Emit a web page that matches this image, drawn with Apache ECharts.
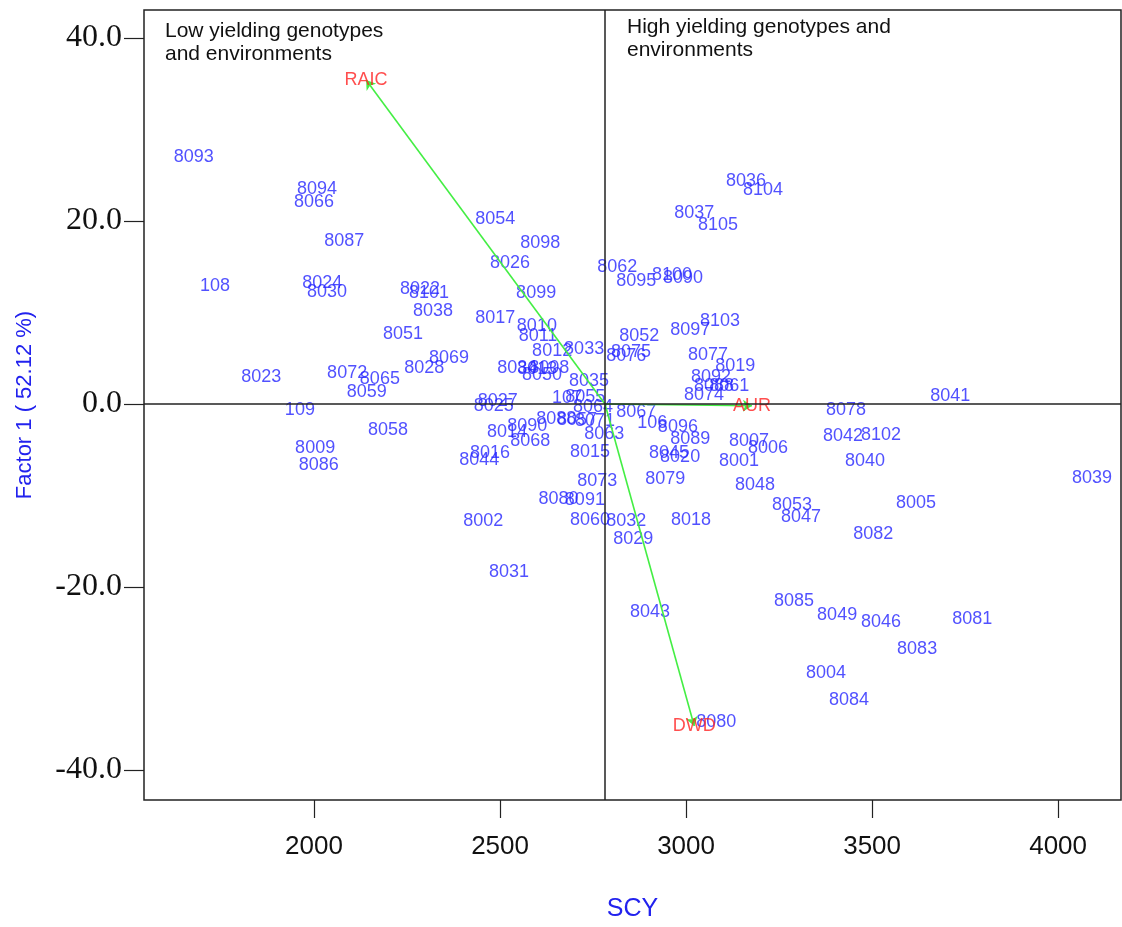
<!DOCTYPE html>
<html>
<head>
<meta charset="utf-8">
<script src="https://cdn.jsdelivr.net/npm/echarts@6/dist/echarts.min.js"></script>
<style>html,body{margin:0;padding:0;background:#fff}#c{width:1122px;height:927px}</style>
</head>
<body>
<div id="c"></div>
<script>
// Genotype labels and their coordinates (SCY, Factor 1)
const genotypes = ["8093","8094","8066","8054","8087","8098","8026","108","8024","8030","8022","8101","8099","8038","8017","8010","8011","8051","8012","8033","8069","8028","8072","8065","8023","8059","8034","8013","8008","8050","8035","107","8055","8064","8027","8025","109","8058","8009","8086","8088","8057","8071","8090","8014","8068","8063","8015","8016","8044","8073","8080","8091","8002","8060","8032","8029","8031","8043",
"8036","8104","8037","8105","8062","8095","8100","8090","8103","8097","8052","8075","8076","8077","8019","8092","8088","8061","8074","8041","8067","8078","106","8096","8089","8007","8006","8042","8102","8045","8020","8001","8040","8039","8079","8048","8005","8053","8047","8018","8082","8085","8049","8046","8081","8083","8004","8084","8080"];
const scyValues = [1677,2008,2000,2487,2081,2608,2527,1734,2022,2035,2285,2309,2597,2320,2487,2599,2602,2239,2640,2726,2363,2296,2089,2177,1858,2142,2546,2600,2632,2613,2739,2680,2729,2750,2494,2483,1962,2199,2003,2013,2651,2707,2755,2573,2519,2581,2780,2742,2473,2444,2761,2657,2728,2455,2742,2839,2858,2524,2903,
3161,3207,3022,3086,2815,2866,2962,2992,3091,3011,2874,2852,2839,3059,3132,3067,3075,3116,3048,3710,2866,3430,2909,2978,3011,3169,3220,3422,3524,2954,2984,3142,3481,4091,2944,3185,3618,3285,3309,3013,3503,3290,3406,3524,3769,3621,3376,3438,3081];
const factor1Values = [27.0,23.5,22.1,20.2,17.8,17.6,15.4,12.9,13.2,12.2,12.6,12.1,12.1,10.2,9.4,8.5,7.4,7.7,5.8,6.0,5.0,3.9,3.4,2.7,3.0,1.3,3.9,3.8,3.9,3.2,2.5,0.7,0.8,-0.3,0.3,-0.2,-0.7,-2.8,-4.8,-6.7,-1.6,-1.7,-1.9,-2.4,-3.1,-4.0,-3.3,-5.2,-5.4,-6.1,-8.4,-10.4,-10.5,-12.8,-12.7,-12.8,-14.8,-18.4,-22.7,
24.4,23.4,20.9,19.6,15.0,13.4,14.1,13.8,9.1,8.1,7.4,5.7,5.2,5.4,4.2,3.0,2.0,2.0,1.0,0.9,-0.9,-0.7,-2.1,-2.5,-3.8,-4.0,-4.8,-3.5,-3.4,-5.4,-5.8,-6.2,-6.2,-8.1,-8.2,-8.9,-10.8,-11.0,-12.3,-12.7,-14.2,-21.5,-23.1,-23.8,-23.5,-26.8,-29.4,-32.3,-34.8];

// Environment vectors
const envNames = ["RAIC","AUR","DWD"];
const envX = [2140,3177,3022];
const envY = [35.4,-0.2,-35.2];
const originX = 2782;
const originY = 0;

// Axis ticks
const xTicks = [2000,2500,3000,3500,4000];
const yTicks = [-40,-20,0,20,40];
const xRange = [1543,4169];
const yRange = [-43.28,43.06];

const pointData = genotypes.map((g,i)=>({name:g,value:[scyValues[i],factor1Values[i]]}));
const envData = envNames.map((n,i)=>({name:n,value:[envX[i],envY[i]]}));
const arrowData = envNames.map((n,i)=>({coords:[[originX,originY],[envX[i],envY[i]]]}));

const chart = echarts.init(document.getElementById('c'), null, {renderer:'canvas'});
chart.setOption({
  animation:false,
  backgroundColor:'#ffffff',
  grid:{left:144,top:10,right:1,bottom:127,show:true,borderColor:'#222',borderWidth:1.5,backgroundColor:'transparent'},
  xAxis:{
    type:'value',min:xRange[0],max:xRange[1],
    name:'SCY',nameLocation:'middle',nameGap:97,
    nameTextStyle:{color:'#2222ee',fontSize:25,fontFamily:'Liberation Sans',verticalAlign:'top'},
    axisLine:{show:false,onZero:false},
    splitLine:{show:false},
    axisTick:{show:true,inside:false,length:18,customValues:xTicks,lineStyle:{color:'#222',width:1.2}},
    axisLabel:{customValues:xTicks,margin:34,fontSize:26,color:'#111',fontFamily:'Liberation Sans',
      formatter:v=>String(v)}
  },
  yAxis:{
    type:'value',min:yRange[0],max:yRange[1],
    name:'Factor 1 ( 52.12 %)',nameLocation:'middle',nameGap:108,nameRotate:90,
    nameTextStyle:{color:'#2222ee',fontSize:22,fontFamily:'Liberation Sans'},
    axisLine:{show:false,onZero:false},
    splitLine:{show:false},
    axisTick:{show:true,inside:false,length:20,customValues:yTicks,lineStyle:{color:'#222',width:1.2}},
    axisLabel:{customValues:yTicks,margin:22,fontSize:32,color:'#111',fontFamily:'Liberation Serif',
      formatter:v=>v.toFixed(1)}
  },
  graphic:[
    {type:'text',left:165,top:20,style:{text:'Low yielding genotypes\nand environments',fontSize:21,lineHeight:23,fill:'#111',fontFamily:'Liberation Sans'}},
    {type:'text',left:627,top:16,style:{text:'High yielding genotypes and\nenvironments',fontSize:21,lineHeight:23,fill:'#111',fontFamily:'Liberation Sans'}}
  ],
  series:[
    {
      type:'scatter',data:pointData,symbolSize:1,
      itemStyle:{color:'rgba(0,0,0,0)'},
      label:{show:true,position:'inside',formatter:p=>p.name,color:'#2626ff',fontSize:18,fontFamily:'Liberation Sans'},
      emphasis:{disabled:true},
      markLine:{silent:true,symbol:'none',label:{show:false},
        lineStyle:{color:'#222',type:'solid',width:1.5},
        data:[{yAxis:0},{xAxis:originX}]}
    },
    {
      type:'lines',coordinateSystem:'cartesian2d',data:arrowData,
      symbol:['none','arrow'],symbolSize:9,
      lineStyle:{color:'#44ee44',width:1.6,opacity:1},
      z:3
    },
    {
      type:'scatter',data:envData,symbolSize:1,
      itemStyle:{color:'rgba(0,0,0,0)'},
      label:{show:true,position:'inside',formatter:p=>p.name,color:'#ff2222',fontSize:18,fontFamily:'Liberation Sans'},
      z:4
    }
  ]
});
</script>
</body>
</html>
